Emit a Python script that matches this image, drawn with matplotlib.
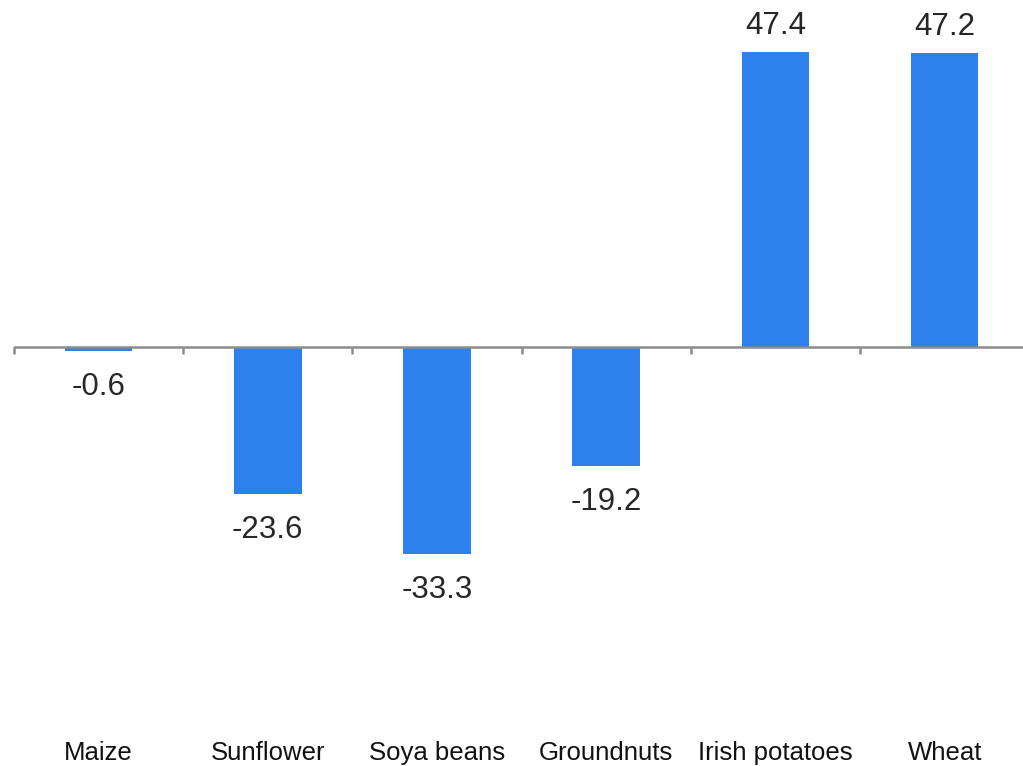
import matplotlib
matplotlib.use("Agg")
import matplotlib.pyplot as plt
import matplotlib.transforms as mtransforms

categories = ["Maize", "Sunflower", "Soya beans", "Groundnuts", "Irish potatoes", "Wheat"]
values = [-0.6, -23.6, -33.3, -19.2, 47.4, 47.2]
value_labels = ["-0.6", "-23.6", "-33.3", "-19.2", "47.4", "47.2"]

plt.rcParams['font.family'] = ['Liberation Sans', 'DejaVu Sans']

W, H = 1023, 766
fig = plt.figure(figsize=(W / 100, H / 100), dpi=100)
ax_bottom_px = 725
cat_w = 169.2
n = len(categories)
ax = fig.add_axes([14 / W, 1 - ax_bottom_px / H, n * cat_w / W, ax_bottom_px / H])

ppu = 6.22
ax.set_ylim(-(ax_bottom_px - 347) / ppu, 347 / ppu)
ax.set_xlim(-0.5, n - 0.5)

x = list(range(n))
ax.bar(x, values, width=0.4, color="#2e80ec", zorder=2)

ax.axhline(0, color="#8c8c8c", lw=1.8, zorder=3)
for b in range(n):
    ax.plot([b - 0.5, b - 0.5], [0, -7 / ppu], color="#8c8c8c", lw=1.8, zorder=3,
            solid_capstyle="butt", clip_on=False)

for xi, v, lab in zip(x, values, value_labels):
    if v >= 0:
        ax.annotate(lab, (xi, v), xytext=(0, 8), textcoords="offset points",
                    ha="center", va="bottom", fontsize=22.5, color="#262626")
    else:
        ax.annotate(lab, (xi, v), xytext=(0, -15), textcoords="offset points",
                    ha="center", va="top", fontsize=22.5, color="#262626")

trans = mtransforms.blended_transform_factory(ax.transData, fig.transFigure)
for xi, c in zip(x, categories):
    ax.text(xi, 1 - 753 / H, c, transform=trans, ha="center", va="center",
            fontsize=18.5, color="#111111")

for s in ax.spines.values():
    s.set_visible(False)
ax.set_xticks([])
ax.set_yticks([])

fig.savefig("out.png", dpi=100)
